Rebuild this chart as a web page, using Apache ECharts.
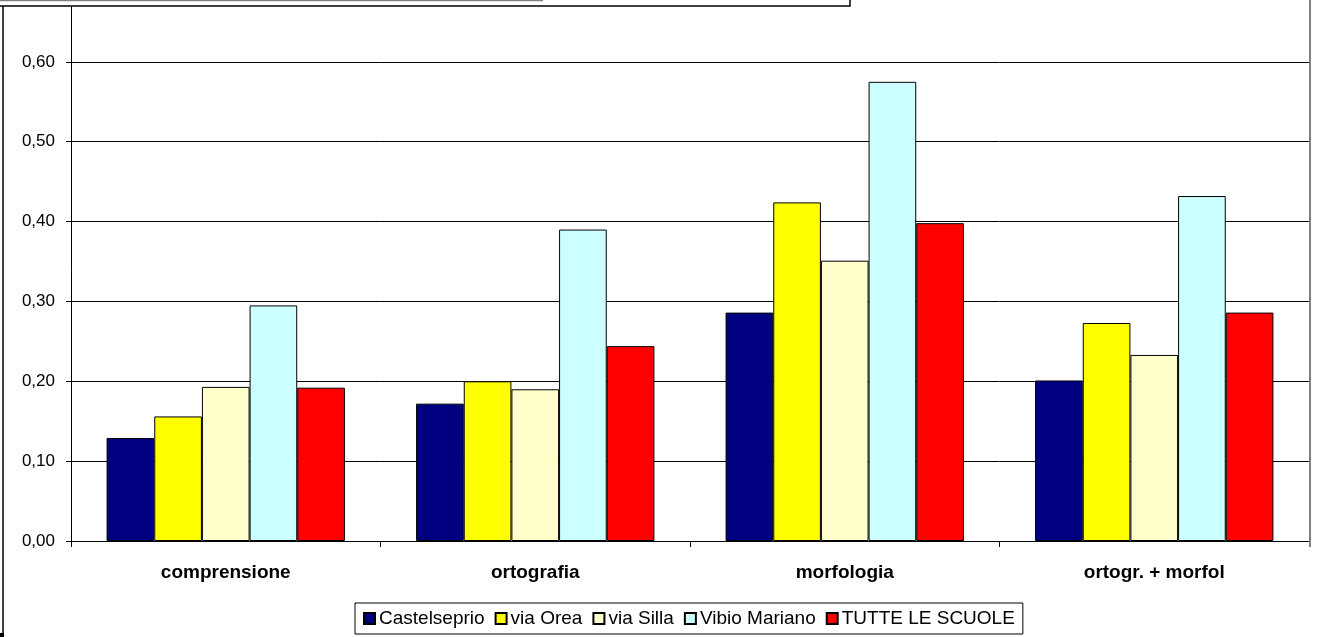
<!DOCTYPE html>
<html>
<head>
<meta charset="utf-8">
<script src="https://cdn.jsdelivr.net/npm/echarts@6/dist/echarts.min.js"></script>
<style>
html,body{margin:0;padding:0;background:#fff;}
#chart{width:1319px;height:637px;}
</style>
</head>
<body>
<div id="chart"></div>
<script>
const categories = ['comprensione', 'ortografia', 'morfologia', 'ortogr. + morfol'];
const seriesNames = ['Castelseprio', 'via Orea', 'via Silla', 'Vibio Mariano', 'TUTTE LE SCUOLE'];
const castelseprio = [0.129, 0.172, 0.286, 0.201];
const viaOrea = [0.156, 0.200, 0.424, 0.273];
const viaSilla = [0.193, 0.190, 0.351, 0.233];
const vibioMariano = [0.295, 0.390, 0.575, 0.432];
const tutteLeScuole = [0.192, 0.244, 0.398, 0.286];
const colors = ['#000080', '#FFFF00', '#FFFFCC', '#CCFFFF', '#FF0000'];

const values = [castelseprio, viaOrea, viaSilla, vibioMariano, tutteLeScuole];

const chart = echarts.init(document.getElementById('chart'));
const font = 'Liberation Sans, Arial, sans-serif';

chart.setOption({
  animation: false,
  backgroundColor: '#fff',
  grid: { left: 71, right: 10, top: -18, bottom: 96, containLabel: false, outerBoundsMode: 'none' },
  legend: {
    data: seriesNames,
    left: 355,
    top: 603,
    orient: 'horizontal',
    backgroundColor: '#fff',
    borderColor: '#000',
    borderWidth: 1,
    padding: [6, 8],
    itemGap: 10,
    itemWidth: 11,
    itemHeight: 11,
    icon: 'rect',
    textStyle: { fontFamily: font, fontSize: 19, color: '#000', padding: [0, 0, 0, -1] }
  },
  xAxis: {
    type: 'category',
    data: categories,
    axisLine: { lineStyle: { color: '#000', width: 1 } },
    axisTick: { show: true, length: 6, lineStyle: { color: '#000' } },
    axisLabel: { fontFamily: font, fontSize: 19, fontWeight: 'bold', color: '#000', margin: 22 },
    splitLine: { show: false }
  },
  yAxis: {
    type: 'value',
    min: 0,
    max: 0.7,
    interval: 0.1,
    axisLine: { show: true, lineStyle: { color: '#000', width: 1 } },
    axisTick: { show: true, length: 5, lineStyle: { color: '#000' } },
    axisLabel: {
      fontFamily: font, fontSize: 17, color: '#000', margin: 16,
      formatter: v => (v > 0.65 ? '' : v.toFixed(2).replace('.', ','))
    },
    splitLine: { show: true, lineStyle: { color: '#000', width: 1 } }
  },
  series: seriesNames.map((name, i) => ({
    name: name,
    type: 'bar',
    data: values[i],
    barGap: '0%',
    barCategoryGap: '23%',
    itemStyle: { color: colors[i], borderColor: '#000', borderWidth: 1 },
    emphasis: { disabled: true }
  })),
  graphic: [
    { type: 'line', z: 100, shape: { x1: 0, y1: 0.5, x2: 543, y2: 0.5 }, style: { stroke: '#808080', lineWidth: 1.5 } },
    { type: 'rect', z: 99, shape: { x: -5, y: -10, width: 855, height: 16 }, style: { fill: '#fff', stroke: '#000', lineWidth: 1.5 } },
    { type: 'line', z: 100, shape: { x1: 3, y1: 6, x2: 3, y2: 637 }, style: { stroke: '#000', lineWidth: 1.5 } },
    { type: 'line', z: 100, shape: { x1: 1310, y1: 0, x2: 1310, y2: 547 }, style: { stroke: '#808080', lineWidth: 2 } },
    { type: 'rect', z: 100, shape: { x: 0, y: 633, width: 4, height: 4 }, style: { fill: '#000' } }
  ]
});
</script>
</body>
</html>
